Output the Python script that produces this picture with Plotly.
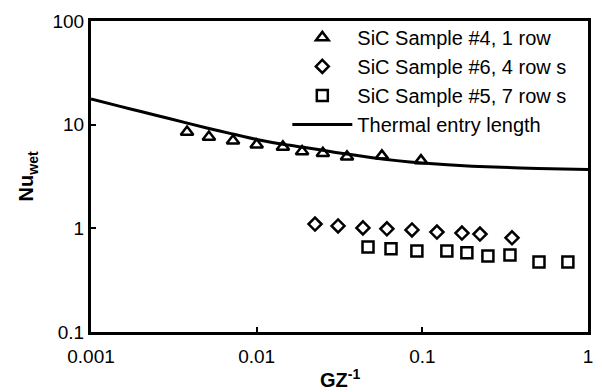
import plotly.graph_objects as go

# Sample #4, 1 row
gz_s4 = [0.0038, 0.00515, 0.0072, 0.0100, 0.0144, 0.0188, 0.0251, 0.0351, 0.0570, 0.0981]
nu_s4 = [8.5, 7.6, 7.0, 6.4, 6.1, 5.5, 5.3, 4.9, 5.0, 4.5]

# Sample #6, 4 rows
gz_s6 = [0.0225, 0.0310, 0.0438, 0.0611, 0.0866, 0.1225, 0.1734, 0.2228, 0.3477]
nu_s6 = [1.10, 1.055, 1.01, 0.99, 0.965, 0.92, 0.90, 0.88, 0.81]

# Sample #5, 7 rows
gz_s5 = [0.0470, 0.0647, 0.0927, 0.1406, 0.1857, 0.2488, 0.3380, 0.506, 0.756]
nu_s5 = [0.66, 0.634, 0.606, 0.606, 0.58, 0.542, 0.554, 0.474, 0.474]

# Thermal entry length curve
gz_th = [0.001, 0.0015, 0.002, 0.003, 0.005, 0.007, 0.01, 0.015, 0.02, 0.03,
         0.05, 0.07, 0.1, 0.2, 0.3, 0.5, 1.0]
nu_th = [17.7, 15.0, 13.4, 11.4, 9.3, 8.2, 7.2, 6.4, 6.0, 5.4,
         4.8, 4.5, 4.27, 3.98, 3.88, 3.78, 3.70]

x_ticks = [0.001, 0.01, 0.1, 1]
x_tick_labels = ["0.001", "0.01", "0.1", "1"]
y_ticks = [0.1, 1, 10, 100]
y_tick_labels = ["0.1", "1", "10", "100"]

FONT = "Liberation Sans, Arial, sans-serif"

fig = go.Figure()
fig.add_trace(go.Scatter(
    x=gz_s4, y=nu_s4, mode="markers", name="SiC Sample #4, 1 row",
    marker=dict(symbol="triangle-up-open", size=11, color="black",
                line=dict(width=2.5, color="black")),
))
fig.add_trace(go.Scatter(
    x=gz_s6, y=nu_s6, mode="markers", name="SiC Sample #6, 4 row s",
    marker=dict(symbol="diamond-open", size=10, color="black",
                line=dict(width=2.5, color="black")),
))
fig.add_trace(go.Scatter(
    x=gz_s5, y=nu_s5, mode="markers", name="SiC Sample #5, 7 row s",
    marker=dict(symbol="square-open", size=11, color="black",
                line=dict(width=2.5, color="black")),
))
fig.add_trace(go.Scatter(
    x=gz_th, y=nu_th, mode="lines", name="Thermal entry length",
    line=dict(color="black", width=3, shape="spline", smoothing=0.6),
))

fig.update_layout(
    width=602, height=392,
    margin=dict(l=91, r=14, t=21, b=60, autoexpand=False),
    paper_bgcolor="white", plot_bgcolor="white",
    font=dict(family=FONT, size=19, color="black"),
    showlegend=True,
    legend=dict(
        x=0.395, y=1.01, xanchor="left", yanchor="top",
        bgcolor="rgba(0,0,0,0)", borderwidth=0,
        font=dict(family=FONT, size=20, color="black"),
        itemwidth=60, tracegroupgap=0,
    ),
    xaxis=dict(
        type="log", range=[-3, 0], automargin=False,
        tickvals=x_ticks, ticktext=x_tick_labels,
        ticks="inside", ticklen=5, tickwidth=2, tickcolor="black",
        ticklabelstandoff=5,
        showline=True, linewidth=3, linecolor="black", mirror=True,
        showgrid=False, zeroline=False,
        tickfont=dict(family=FONT, size=19),
    ),
    yaxis=dict(
        type="log", range=[-1, 2], automargin=False,
        tickvals=y_ticks, ticktext=y_tick_labels,
        ticks="inside", ticklen=5, tickwidth=2, tickcolor="black",
        showline=True, linewidth=3, linecolor="black", mirror=True,
        showgrid=False, zeroline=False,
        tickfont=dict(family=FONT, size=19),
    ),
    annotations=[
        dict(text="<b>GZ</b><sup><b>-1</b></sup>", xref="paper", yref="paper",
             x=0.5, y=-0.148, xanchor="center", yanchor="middle",
             showarrow=False, font=dict(family=FONT, size=20)),
        dict(text="<b>Nu</b><sub><b>wet</b></sub>", xref="paper", yref="paper",
             x=-0.127, y=0.5, xanchor="center", yanchor="middle",
             textangle=-90, showarrow=False, font=dict(family=FONT, size=20)),
    ],
)

fig.write_html("out.html")
